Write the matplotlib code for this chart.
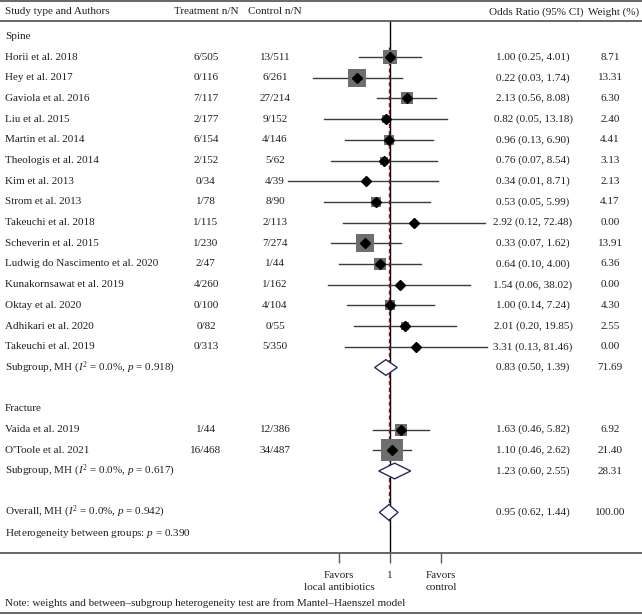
import numpy as np
import matplotlib.pyplot as plt
import matplotlib.transforms as mtransforms
from matplotlib.lines import Line2D
from matplotlib.ticker import NullLocator

plt.rcParams['font.family'] = 'Liberation Serif'
plt.rcParams['mathtext.fontset'] = 'custom'
plt.rcParams['mathtext.rm'] = 'Liberation Serif'
plt.rcParams['mathtext.it'] = 'Liberation Serif:italic'

# data
studies = ["Horii et al. 2018", "Hey et al. 2017", "Gaviola et al. 2016",
           "Liu et al. 2015", "Martin et al. 2014", "Theologis et al. 2014",
           "Kim et al. 2013", "Strom et al. 2013", "Takeuchi et al. 2018",
           "Scheverin et al. 2015", "Ludwig do Nascimento et al. 2020",
           "Kunakornsawat et al. 2019", "Oktay et al. 2020",
           "Adhikari et al. 2020", "Takeuchi et al. 2019",
           "Vaida et al. 2019", "O'Toole et al. 2021"]
group = ["Spine"] * 15 + ["Fracture"] * 2
treat = ["6/505", "0/116", "7/117", "2/177", "6/154", "2/152", "0/34", "1/78",
         "1/115", "1/230", "2/47", "4/260", "0/100", "0/82", "0/313",
         "1/44", "16/468"]
ctrl = ["13/511", "6/261", "27/214", "9/152", "4/146", "5/62", "4/39", "8/90",
        "2/113", "7/274", "1/44", "1/162", "4/104", "0/55", "5/350",
        "12/386", "34/487"]
odds = [1.00, 0.22, 2.13, 0.82, 0.96, 0.76, 0.34, 0.53, 2.92, 0.33, 0.64,
        1.54, 1.00, 2.01, 3.31, 1.63, 1.10]
ci_lo = [0.25, 0.03, 0.56, 0.05, 0.13, 0.07, 0.01, 0.05, 0.12, 0.07, 0.10,
         0.06, 0.14, 0.20, 0.13, 0.46, 0.46]
ci_hi = [4.01, 1.74, 8.08, 13.18, 6.90, 8.54, 8.71, 5.99, 72.48, 1.62, 4.00,
         38.02, 7.24, 19.85, 81.46, 5.82, 2.62]
weight = [8.71, 13.31, 6.30, 2.40, 4.41, 3.13, 2.13, 4.17, 0.00, 13.91, 6.36,
          0.00, 4.30, 2.55, 0.00, 6.92, 21.40]

groups = ["Spine", "Fracture"]
sub_i2 = ["0.0%", "0.0%"]
sub_p = ["0.918", "0.617"]
sub_or = [0.83, 1.23]
sub_lo = [0.50, 0.60]
sub_hi = [1.39, 2.55]
sub_w = [71.69, 28.31]

overall_i2, overall_p = "0.0%", "0.942"
overall_or, overall_lo, overall_hi = 0.95, 0.62, 1.44
het_p = "0.390"

tick_vals = [0.1, 1, 10]
tick_labels = ["Favors\nlocal antibiotics", "1", "Favors\ncontrol"]

# layout (pixels)
W, H = 642, 615
FS = 8
TXT = '#231f20'
RULE = '#5a5a5a'


def fy(py):
    return 1 - py / H


def row_at(py):
    return (py - 57) / 20.7


fig = plt.figure(figsize=(W / 100, H / 100), dpi=100)
ax = fig.add_axes([0, fy(553), 1, (553 - 1) / H])
ax.set_xscale('log')
k = 22.1  # px per ln unit
ax.set_xlim(np.exp(-390 / k), np.exp((W - 390) / k))
ax.set_ylim(row_at(553), row_at(1))

tr = mtransforms.blended_transform_factory(fig.transFigure, ax.transData)
col_x = {'name': 5 / W, 'treat': 206 / W, 'ctrl': 275 / W,
         'or': 533 / W, 'w': 610 / W}


def txt(x, y, s, ha='left'):
    ax.text(x, y, s, transform=tr, ha=ha, va='center', fontsize=FS, color=TXT)


# header
yh = row_at(12)
txt(col_x['name'], yh, "Study type and Authors")
txt(col_x['treat'], yh, "Treatment n/N", 'center')
txt(col_x['ctrl'], yh, "Control n/N", 'center')
txt(536 / W, yh, "Odds Ratio (95% CI)", 'center')
txt(614 / W, yh, "Weight (%)", 'center')
ax.axhline(row_at(21), color=RULE, lw=1.3)

y = -1
for g, gname in enumerate(groups):
    txt(col_x['name'], y, gname)
    y += 1
    for i in range(len(studies)):
        if group[i] != gname:
            continue
        ax.plot([ci_lo[i], ci_hi[i]], [y, y], color='#3c3c3c', lw=1.0, zorder=2)
        if weight[i] > 0:
            ax.scatter(odds[i], y, s=11.3 * weight[i], marker='s',
                       color='#6e6e6e', linewidths=0, zorder=3)
        ax.plot(odds[i], y, 'D', color='black', ms=5.5, zorder=4)
        txt(col_x['name'], y, studies[i])
        txt(col_x['treat'], y, treat[i], 'center')
        txt(col_x['ctrl'], y, ctrl[i], 'center')
        txt(col_x['or'], y, f"{odds[i]:.2f} ({ci_lo[i]:.2f}, {ci_hi[i]:.2f})", 'center')
        txt(col_x['w'], y, f"{weight[i]:.2f}", 'center')
        y += 1
    h = 0.38
    ax.fill([sub_lo[g], sub_or[g], sub_hi[g], sub_or[g]], [y, y - h, y, y + h],
            facecolor='white', edgecolor='#27276a', lw=1.0, zorder=4)
    txt(col_x['name'], y, rf"Subgroup, MH ($\it{{I}}^2$ = {sub_i2[g]}, $\it{{p}}$ = {sub_p[g]})")
    txt(col_x['or'], y, f"{sub_or[g]:.2f} ({sub_lo[g]:.2f}, {sub_hi[g]:.2f})", 'center')
    txt(col_x['w'], y, f"{sub_w[g]:.2f}", 'center')
    y += 2

# overall
h = 0.38
ax.fill([overall_lo, overall_or, overall_hi, overall_or], [y, y - h, y, y + h],
        facecolor='white', edgecolor='#27276a', lw=1.0, zorder=4)
txt(col_x['name'], y, rf"Overall, MH ($\it{{I}}^2$ = {overall_i2}, $\it{{p}}$ = {overall_p})")
txt(col_x['or'], y, f"{overall_or:.2f} ({overall_lo:.2f}, {overall_hi:.2f})", 'center')
txt(col_x['w'], y, "100.00", 'center')
txt(col_x['name'], y + 1, rf"Heterogeneity between groups: $\it{{p}}$ = {het_p}")

# reference lines
ax.plot([1, 1], [row_at(21), row_at(553)], color='black', lw=1.0, zorder=1)
ax.plot([overall_or] * 2, [row_at(47), row_at(521)], color='#8b1a1a',
        lw=1.0, ls=(0, (3, 2)), zorder=1)

# axis
for s in ['left', 'right', 'top']:
    ax.spines[s].set_visible(False)
ax.spines['bottom'].set_color(RULE)
ax.spines['bottom'].set_linewidth(1.3)
ax.set_xticks(tick_vals)
ax.set_xticklabels(tick_labels, linespacing=1.45)
ax.xaxis.set_minor_locator(NullLocator())
ax.set_yticks([])
ax.tick_params(axis='x', length=7, width=1, color=RULE, pad=6,
               labelsize=FS, labelcolor=TXT)

fig.add_artist(Line2D([0, 1], [fy(1)] * 2, color=RULE, lw=1.3))
fig.add_artist(Line2D([0, 1], [fy(613)] * 2, color=RULE, lw=1.3))
fig.text(5 / W, fy(603), "Note: weights and between\u2013subgroup heterogeneity test "
         "are from Mantel\u2013Haenszel model", ha='left', va='center',
         fontsize=FS, color=TXT)

fig.savefig('out.png', dpi=100)
